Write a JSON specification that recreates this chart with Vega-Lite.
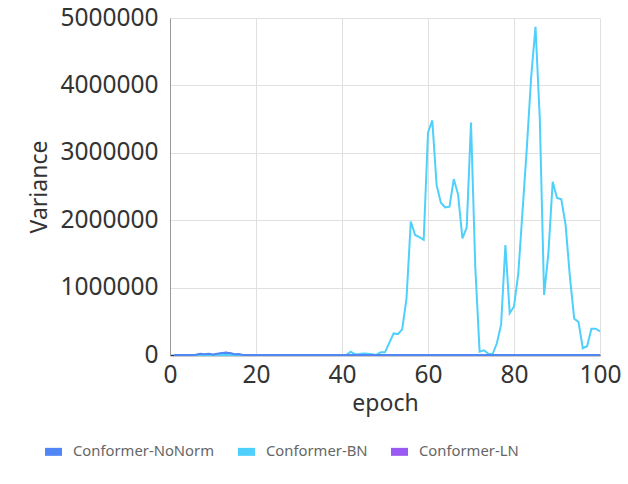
{
  "$schema": "https://vega.github.io/schema/vega-lite/v6.json",
  "width": 430,
  "height": 337,
  "autosize": "none",
  "padding": {"left": 170, "top": 18, "right": 28, "bottom": 129},
  "background": "white",
  "config": {
    "font": "Noto Sans",
    "view": {"stroke": null},
    "axis": {"gridColor": "#e0e0e0", "gridWidth": 1, "ticks": false, "labelColor": "#333", "titleColor": "#333", "titleFontWeight": "normal", "labelFontSize": 24.5, "titleFontSize": 23}
  },
  "data": {
    "values": [
      {"epoch":1,"Conformer-NoNorm":0,"Conformer-BN":0,"Conformer-LN":0},
      {"epoch":2,"Conformer-NoNorm":0,"Conformer-BN":0,"Conformer-LN":0},
      {"epoch":3,"Conformer-NoNorm":0,"Conformer-BN":0,"Conformer-LN":0},
      {"epoch":4,"Conformer-NoNorm":0,"Conformer-BN":0,"Conformer-LN":0},
      {"epoch":5,"Conformer-NoNorm":0,"Conformer-BN":0,"Conformer-LN":0},
      {"epoch":6,"Conformer-NoNorm":5000,"Conformer-BN":0,"Conformer-LN":0},
      {"epoch":7,"Conformer-NoNorm":20000,"Conformer-BN":0,"Conformer-LN":0},
      {"epoch":8,"Conformer-NoNorm":10000,"Conformer-BN":0,"Conformer-LN":0},
      {"epoch":9,"Conformer-NoNorm":20000,"Conformer-BN":0,"Conformer-LN":0},
      {"epoch":10,"Conformer-NoNorm":8000,"Conformer-BN":0,"Conformer-LN":0},
      {"epoch":11,"Conformer-NoNorm":20000,"Conformer-BN":0,"Conformer-LN":5000},
      {"epoch":12,"Conformer-NoNorm":30000,"Conformer-BN":0,"Conformer-LN":20000},
      {"epoch":13,"Conformer-NoNorm":32000,"Conformer-BN":0,"Conformer-LN":35000},
      {"epoch":14,"Conformer-NoNorm":30000,"Conformer-BN":0,"Conformer-LN":20000},
      {"epoch":15,"Conformer-NoNorm":10000,"Conformer-BN":0,"Conformer-LN":0},
      {"epoch":16,"Conformer-NoNorm":15000,"Conformer-BN":0,"Conformer-LN":0},
      {"epoch":17,"Conformer-NoNorm":0,"Conformer-BN":0,"Conformer-LN":0},
      {"epoch":18,"Conformer-NoNorm":0,"Conformer-BN":0,"Conformer-LN":0},
      {"epoch":19,"Conformer-NoNorm":0,"Conformer-BN":0,"Conformer-LN":0},
      {"epoch":20,"Conformer-NoNorm":0,"Conformer-BN":0,"Conformer-LN":0},
      {"epoch":21,"Conformer-NoNorm":0,"Conformer-BN":0,"Conformer-LN":0},
      {"epoch":22,"Conformer-NoNorm":0,"Conformer-BN":0,"Conformer-LN":0},
      {"epoch":23,"Conformer-NoNorm":0,"Conformer-BN":0,"Conformer-LN":0},
      {"epoch":24,"Conformer-NoNorm":0,"Conformer-BN":0,"Conformer-LN":0},
      {"epoch":25,"Conformer-NoNorm":0,"Conformer-BN":0,"Conformer-LN":0},
      {"epoch":26,"Conformer-NoNorm":0,"Conformer-BN":0,"Conformer-LN":0},
      {"epoch":27,"Conformer-NoNorm":0,"Conformer-BN":0,"Conformer-LN":0},
      {"epoch":28,"Conformer-NoNorm":0,"Conformer-BN":0,"Conformer-LN":0},
      {"epoch":29,"Conformer-NoNorm":0,"Conformer-BN":0,"Conformer-LN":0},
      {"epoch":30,"Conformer-NoNorm":0,"Conformer-BN":0,"Conformer-LN":0},
      {"epoch":31,"Conformer-NoNorm":0,"Conformer-BN":0,"Conformer-LN":0},
      {"epoch":32,"Conformer-NoNorm":0,"Conformer-BN":0,"Conformer-LN":0},
      {"epoch":33,"Conformer-NoNorm":0,"Conformer-BN":0,"Conformer-LN":0},
      {"epoch":34,"Conformer-NoNorm":0,"Conformer-BN":0,"Conformer-LN":0},
      {"epoch":35,"Conformer-NoNorm":0,"Conformer-BN":0,"Conformer-LN":0},
      {"epoch":36,"Conformer-NoNorm":0,"Conformer-BN":0,"Conformer-LN":0},
      {"epoch":37,"Conformer-NoNorm":0,"Conformer-BN":0,"Conformer-LN":0},
      {"epoch":38,"Conformer-NoNorm":0,"Conformer-BN":0,"Conformer-LN":0},
      {"epoch":39,"Conformer-NoNorm":0,"Conformer-BN":0,"Conformer-LN":0},
      {"epoch":40,"Conformer-NoNorm":0,"Conformer-BN":0,"Conformer-LN":0},
      {"epoch":41,"Conformer-NoNorm":0,"Conformer-BN":0,"Conformer-LN":0},
      {"epoch":42,"Conformer-NoNorm":0,"Conformer-BN":50000,"Conformer-LN":0},
      {"epoch":43,"Conformer-NoNorm":0,"Conformer-BN":12000,"Conformer-LN":0},
      {"epoch":44,"Conformer-NoNorm":0,"Conformer-BN":15000,"Conformer-LN":0},
      {"epoch":45,"Conformer-NoNorm":0,"Conformer-BN":22000,"Conformer-LN":0},
      {"epoch":46,"Conformer-NoNorm":0,"Conformer-BN":20000,"Conformer-LN":0},
      {"epoch":47,"Conformer-NoNorm":0,"Conformer-BN":12000,"Conformer-LN":0},
      {"epoch":48,"Conformer-NoNorm":0,"Conformer-BN":2000,"Conformer-LN":0},
      {"epoch":49,"Conformer-NoNorm":0,"Conformer-BN":40000,"Conformer-LN":0},
      {"epoch":50,"Conformer-NoNorm":0,"Conformer-BN":40000,"Conformer-LN":0},
      {"epoch":51,"Conformer-NoNorm":0,"Conformer-BN":180000,"Conformer-LN":0},
      {"epoch":52,"Conformer-NoNorm":0,"Conformer-BN":320000,"Conformer-LN":0},
      {"epoch":53,"Conformer-NoNorm":0,"Conformer-BN":310000,"Conformer-LN":0},
      {"epoch":54,"Conformer-NoNorm":0,"Conformer-BN":380000,"Conformer-LN":0},
      {"epoch":55,"Conformer-NoNorm":0,"Conformer-BN":840000,"Conformer-LN":0},
      {"epoch":56,"Conformer-NoNorm":0,"Conformer-BN":1980000,"Conformer-LN":0},
      {"epoch":57,"Conformer-NoNorm":0,"Conformer-BN":1780000,"Conformer-LN":0},
      {"epoch":58,"Conformer-NoNorm":0,"Conformer-BN":1750000,"Conformer-LN":0},
      {"epoch":59,"Conformer-NoNorm":0,"Conformer-BN":1710000,"Conformer-LN":0},
      {"epoch":60,"Conformer-NoNorm":0,"Conformer-BN":3300000,"Conformer-LN":0},
      {"epoch":61,"Conformer-NoNorm":0,"Conformer-BN":3480000,"Conformer-LN":0},
      {"epoch":62,"Conformer-NoNorm":0,"Conformer-BN":2520000,"Conformer-LN":0},
      {"epoch":63,"Conformer-NoNorm":0,"Conformer-BN":2260000,"Conformer-LN":0},
      {"epoch":64,"Conformer-NoNorm":0,"Conformer-BN":2190000,"Conformer-LN":0},
      {"epoch":65,"Conformer-NoNorm":0,"Conformer-BN":2200000,"Conformer-LN":0},
      {"epoch":66,"Conformer-NoNorm":0,"Conformer-BN":2610000,"Conformer-LN":0},
      {"epoch":67,"Conformer-NoNorm":0,"Conformer-BN":2380000,"Conformer-LN":0},
      {"epoch":68,"Conformer-NoNorm":0,"Conformer-BN":1730000,"Conformer-LN":0},
      {"epoch":69,"Conformer-NoNorm":0,"Conformer-BN":1890000,"Conformer-LN":0},
      {"epoch":70,"Conformer-NoNorm":0,"Conformer-BN":3450000,"Conformer-LN":0},
      {"epoch":71,"Conformer-NoNorm":0,"Conformer-BN":1300000,"Conformer-LN":0},
      {"epoch":72,"Conformer-NoNorm":0,"Conformer-BN":50000,"Conformer-LN":0},
      {"epoch":73,"Conformer-NoNorm":0,"Conformer-BN":70000,"Conformer-LN":0},
      {"epoch":74,"Conformer-NoNorm":0,"Conformer-BN":20000,"Conformer-LN":0},
      {"epoch":75,"Conformer-NoNorm":0,"Conformer-BN":10000,"Conformer-LN":0},
      {"epoch":76,"Conformer-NoNorm":0,"Conformer-BN":170000,"Conformer-LN":0},
      {"epoch":77,"Conformer-NoNorm":0,"Conformer-BN":450000,"Conformer-LN":0},
      {"epoch":78,"Conformer-NoNorm":0,"Conformer-BN":1630000,"Conformer-LN":0},
      {"epoch":79,"Conformer-NoNorm":0,"Conformer-BN":620000,"Conformer-LN":0},
      {"epoch":80,"Conformer-NoNorm":0,"Conformer-BN":720000,"Conformer-LN":0},
      {"epoch":81,"Conformer-NoNorm":0,"Conformer-BN":1210000,"Conformer-LN":0},
      {"epoch":82,"Conformer-NoNorm":0,"Conformer-BN":2150000,"Conformer-LN":0},
      {"epoch":83,"Conformer-NoNorm":0,"Conformer-BN":3090000,"Conformer-LN":0},
      {"epoch":84,"Conformer-NoNorm":0,"Conformer-BN":4130000,"Conformer-LN":0},
      {"epoch":85,"Conformer-NoNorm":0,"Conformer-BN":4870000,"Conformer-LN":0},
      {"epoch":86,"Conformer-NoNorm":0,"Conformer-BN":3500000,"Conformer-LN":0},
      {"epoch":87,"Conformer-NoNorm":0,"Conformer-BN":890000,"Conformer-LN":0},
      {"epoch":88,"Conformer-NoNorm":0,"Conformer-BN":1510000,"Conformer-LN":0},
      {"epoch":89,"Conformer-NoNorm":0,"Conformer-BN":2570000,"Conformer-LN":0},
      {"epoch":90,"Conformer-NoNorm":0,"Conformer-BN":2330000,"Conformer-LN":0},
      {"epoch":91,"Conformer-NoNorm":0,"Conformer-BN":2310000,"Conformer-LN":0},
      {"epoch":92,"Conformer-NoNorm":0,"Conformer-BN":1930000,"Conformer-LN":0},
      {"epoch":93,"Conformer-NoNorm":0,"Conformer-BN":1160000,"Conformer-LN":0},
      {"epoch":94,"Conformer-NoNorm":0,"Conformer-BN":540000,"Conformer-LN":0},
      {"epoch":95,"Conformer-NoNorm":0,"Conformer-BN":490000,"Conformer-LN":0},
      {"epoch":96,"Conformer-NoNorm":0,"Conformer-BN":100000,"Conformer-LN":0},
      {"epoch":97,"Conformer-NoNorm":0,"Conformer-BN":130000,"Conformer-LN":0},
      {"epoch":98,"Conformer-NoNorm":0,"Conformer-BN":390000,"Conformer-LN":0},
      {"epoch":99,"Conformer-NoNorm":0,"Conformer-BN":390000,"Conformer-LN":0},
      {"epoch":100,"Conformer-NoNorm":0,"Conformer-BN":350000,"Conformer-LN":0}
    ]
  },
  "transform": [
    {"fold": ["Conformer-LN", "Conformer-BN", "Conformer-NoNorm"], "as": ["series", "variance"]}
  ],
  "mark": {"type": "line", "strokeWidth": 2, "interpolate": "linear"},
  "encoding": {
    "x": {
      "field": "epoch", "type": "quantitative",
      "scale": {"domain": [0, 100], "nice": false},
      "axis": {"title": "epoch", "values": [0, 20, 40, 60, 80, 100], "domainColor": "#333", "domainWidth": 1.5, "labelPadding": 8, "titlePadding": 6, "labelFlush": false}
    },
    "y": {
      "field": "variance", "type": "quantitative",
      "scale": {"domain": [0, 5000000], "nice": false},
      "axis": {"title": "Variance", "values": [0, 1000000, 2000000, 3000000, 4000000, 5000000], "format": "d", "domainColor": "#999", "labelPadding": 12, "titlePadding": 8}
    },
    "color": {
      "field": "series", "type": "nominal",
      "scale": {"domain": ["Conformer-NoNorm", "Conformer-BN", "Conformer-LN"], "range": ["#5087f5", "#4fd0fc", "#9b59f4"]},
      "legend": {
        "title": null, "orient": "none", "direction": "horizontal",
        "legendX": -125, "legendY": 425,
        "symbolType": "M-1,-0.47H1V0.47H-1Z", "symbolSize": 289, "symbolStrokeWidth": 0, "symbolOpacity": 1,
        "labelFontSize": 14.8, "labelColor": "#666", "labelOffset": 11, "columnPadding": 23,
        "encode": {"symbols": {"update": {"fill": {"scale": "color", "field": "value"}, "fillOpacity": {"value": 1}}}}
      }
    },
    "order": {"field": "epoch"}
  }
}
